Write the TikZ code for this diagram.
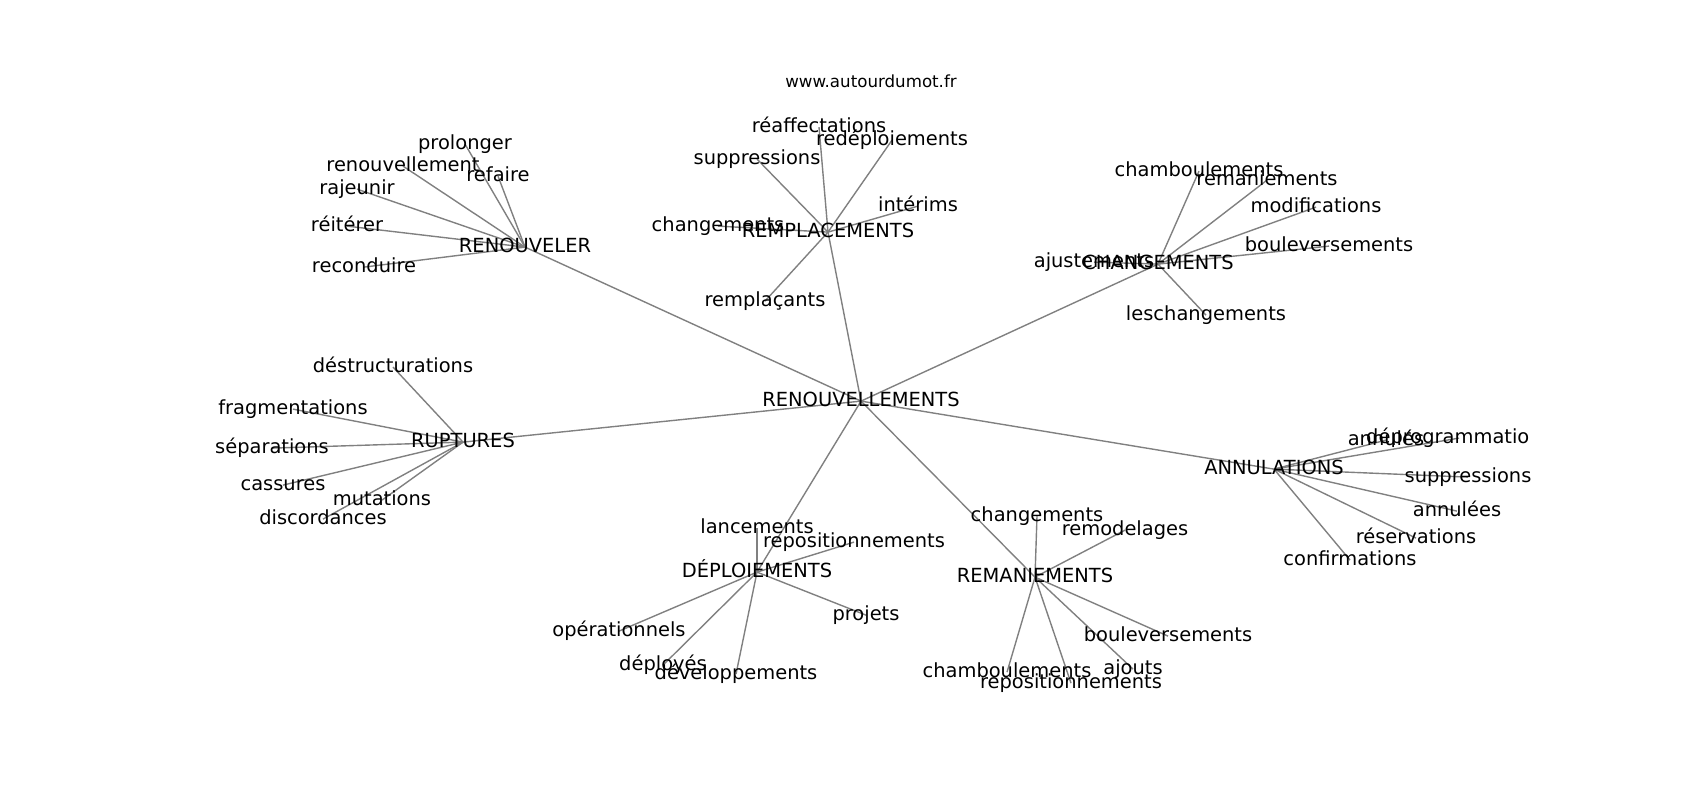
\documentclass[tikz,border=0pt]{standalone}
\usepackage{fontspec}
\setmainfont{DejaVu Sans}
\usetikzlibrary{backgrounds}
\begin{document}
\begin{tikzpicture}[x=0.72pt,y=-0.72pt,
  lbl/.style={inner sep=0pt, text height=1.0em, text depth=0.21em, font=\fontsize{14}{16}\selectfont, text=black},
  edge/.style={draw=gray, line width=1pt}]
\useasboundingbox (0,0) rectangle (1700,800);
\node[font=\fontsize{12}{14}\selectfont, anchor=base, inner sep=0pt] (title) at (871,87.7) {www.autourdumot.fr};
\begin{scope}[yshift=-0.8pt]
\clip (212.5,96) rectangle (1530,712);
% hubs
\node[lbl] (root) at (861,400) {RENOUVELLEMENTS};
\node[lbl] (renouveler) at (525,246) {RENOUVELER};
\node[lbl] (remplacements) at (828,231) {REMPLACEMENTS};
\node[lbl] (changements) at (1158,263) {CHANGEMENTS};
\node[lbl] (ruptures) at (463,441) {RUPTURES};
\node[lbl] (annulations) at (1274,468) {ANNULATIONS};
\node[lbl] (deploiements) at (757,571) {DÉPLOIEMENTS};
\node[lbl] (remaniements) at (1035,576) {REMANIEMENTS};
% RENOUVELER
\node[lbl] (a1) at (465,143) {prolonger};
\node[lbl] (a2) at (403,165) {renouvellement};
\node[lbl] (a3) at (498,175) {refaire};
\node[lbl] (a4) at (357,188) {rajeunir};
\node[lbl] (a5) at (347,225) {réitérer};
\node[lbl] (a6) at (364,266) {reconduire};
% REMPLACEMENTS
\node[lbl] (b1) at (819,126) {réaffectations};
\node[lbl] (b2) at (892,139) {redéploiements};
\node[lbl] (b3) at (757,158) {suppressions};
\node[lbl] (b4) at (918,205) {intérims};
\node[lbl] (b5) at (718,225) {changements};
\node[lbl] (b6) at (765,300) {remplaçants};
% CHANGEMENTS
\node[lbl] (c1) at (1199,170) {chamboulements};
\node[lbl] (c2) at (1267,179) {remaniements};
\node[lbl] (c3) at (1316,206) {modifications};
\node[lbl] (c4) at (1329,245) {bouleversements};
\node[lbl] (c5) at (1094,261) {ajustements};
\node[lbl] (c6) at (1206,314) {leschangements};
% RUPTURES
\node[lbl] (d1) at (393,366) {déstructurations};
\node[lbl] (d2) at (293,408) {fragmentations};
\node[lbl] (d3) at (272,447) {séparations};
\node[lbl] (d4) at (283,484) {cassures};
\node[lbl] (d5) at (382,499) {mutations};
\node[lbl] (d6) at (323,518) {discordances};
% ANNULATIONS
\node[lbl] (e1) at (1386,439) {annulés};
\node[lbl] (e2) at (1459,437) {déprogrammations};
\node[lbl] (e3) at (1468,476) {suppressions};
\node[lbl] (e4) at (1457,510) {annulées};
\node[lbl] (e5) at (1416,537) {réservations};
\node[lbl] (e6) at (1350,559) {confirmations};
% DEPLOIEMENTS
\node[lbl] (f1) at (757,527) {lancements};
\node[lbl] (f2) at (854,541) {repositionnements};
\node[lbl] (f3) at (619,630) {opérationnels};
\node[lbl] (f4) at (866,614) {projets};
\node[lbl] (f5) at (663,664) {déployés};
\node[lbl] (f6) at (736,673) {développements};
% REMANIEMENTS
\node[lbl] (g1) at (1037,515) {changements};
\node[lbl] (g2) at (1125,529) {remodelages};
\node[lbl] (g3) at (1168,635) {bouleversements};
\node[lbl] (g4) at (1007,671) {chamboulements};
\node[lbl] (g5) at (1133,668) {ajouts};
\node[lbl] (g6) at (1071,682) {repositionnements};
\end{scope}
\begin{scope}[on background layer]
\fill[white] (0,0) rectangle (1700,800);
\foreach \h in {renouveler,remplacements,changements,ruptures,annulations,deploiements,remaniements}
  \draw[edge] (root.center) -- (\h.center);
\foreach \l in {a1,a2,a3,a4,a5,a6} \draw[edge] (renouveler.center) -- (\l.center);
\foreach \l in {b1,b2,b3,b4,b5,b6} \draw[edge] (remplacements.center) -- (\l.center);
\foreach \l in {c1,c2,c3,c4,c5,c6} \draw[edge] (changements.center) -- (\l.center);
\foreach \l in {d1,d2,d3,d4,d5,d6} \draw[edge] (ruptures.center) -- (\l.center);
\foreach \l in {e1,e2,e3,e4,e5,e6} \draw[edge] (annulations.center) -- (\l.center);
\foreach \l in {f1,f2,f3,f4,f5,f6} \draw[edge] (deploiements.center) -- (\l.center);
\foreach \l in {g1,g2,g3,g4,g5,g6} \draw[edge] (remaniements.center) -- (\l.center);
\end{scope}
\end{tikzpicture}
\end{document}
